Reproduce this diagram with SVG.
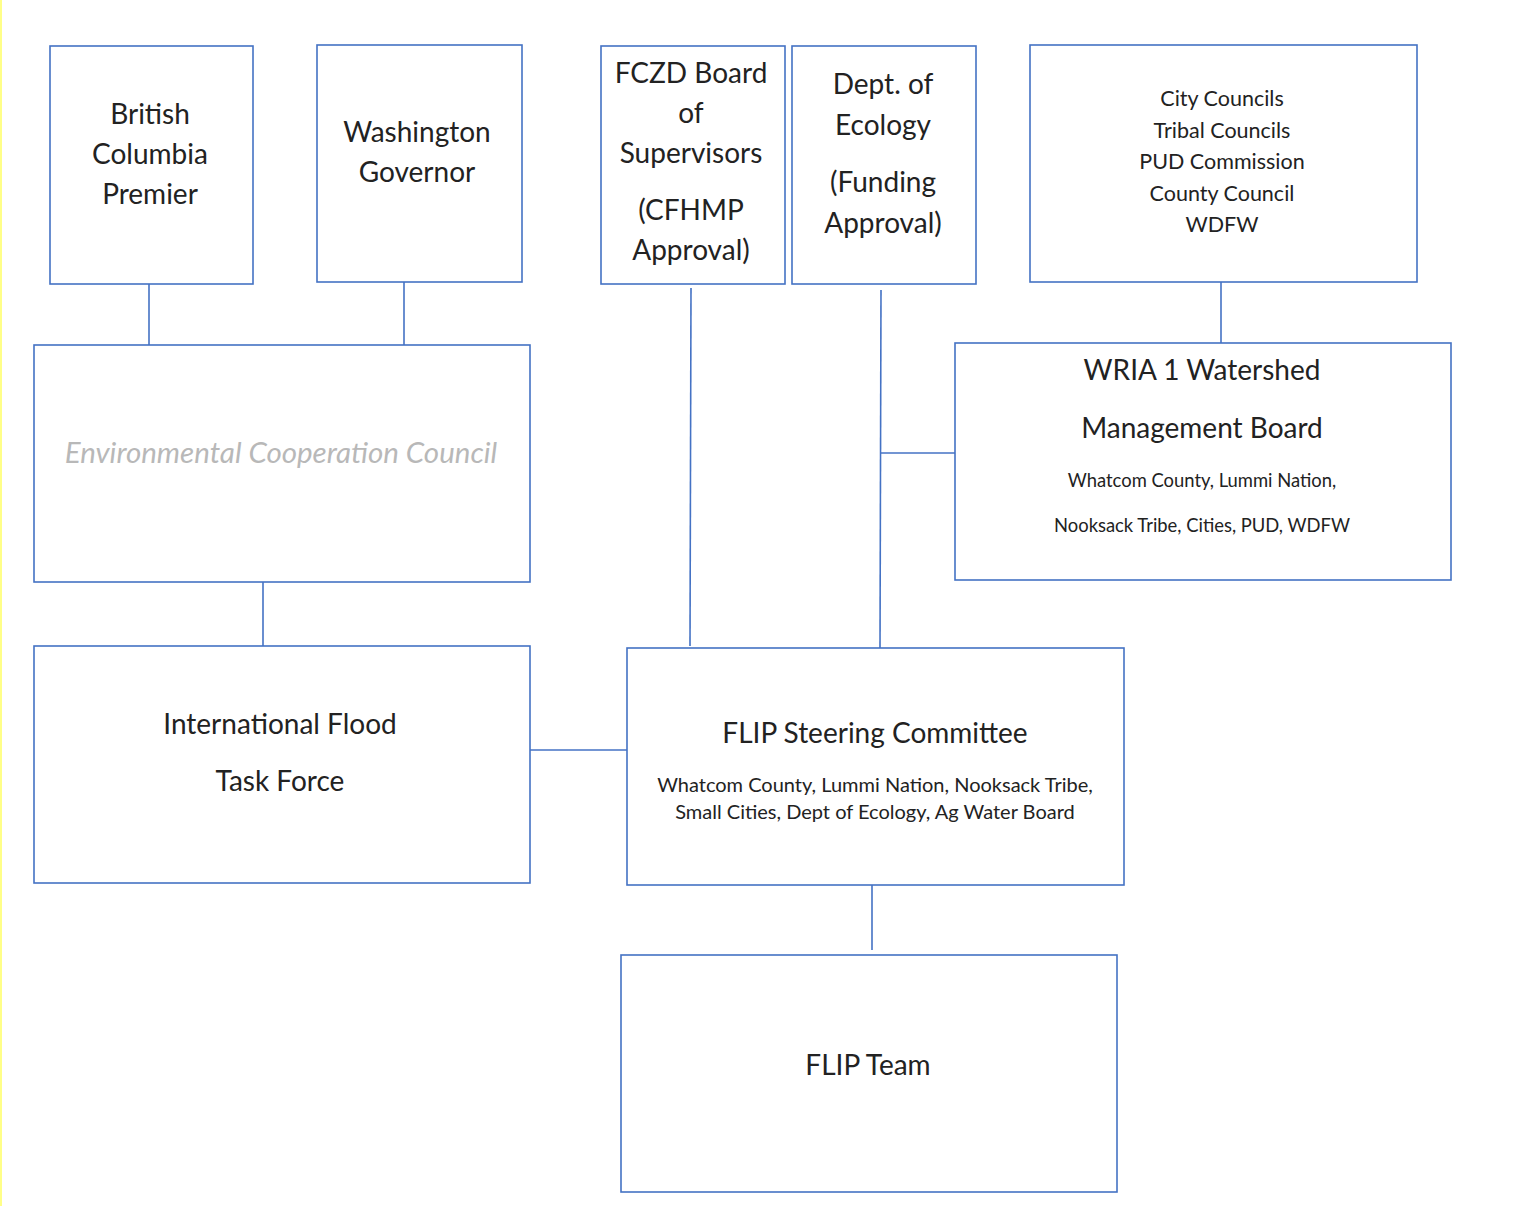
<svg xmlns="http://www.w3.org/2000/svg" width="1519" height="1206" viewBox="0 0 1519 1206">
<style>
.box{fill:#fff;stroke:#4472C4;stroke-width:1.6}
.con{stroke:#4472C4;stroke-width:1.6;fill:none}
text{font-family:Lato,"Open Sans",sans-serif;fill:#222;text-anchor:middle}
.l{font-size:28px}
.s{font-size:21.5px}
.xs{font-size:20px}
.xxs{font-size:18.4px}
.ecc{font-style:italic;fill:#b8b8b8;font-size:29.5px}
</style>
<rect x="0" y="0" width="1519" height="1206" fill="#fff"/>
<rect x="0" y="0" width="2" height="1206" fill="#ffff88"/>
<g id="connectors">
<line class="con" x1="149" y1="284" x2="149" y2="345"/>
<line class="con" x1="404" y1="282" x2="404" y2="345"/>
<line class="con" x1="691" y1="288" x2="690" y2="646"/>
<line class="con" x1="881" y1="290" x2="880" y2="648"/>
<line class="con" x1="880" y1="453" x2="955" y2="453"/>
<line class="con" x1="1221" y1="282" x2="1221" y2="343"/>
<line class="con" x1="263" y1="582" x2="263" y2="646"/>
<line class="con" x1="530" y1="750" x2="631" y2="750"/>
<line class="con" x1="872" y1="885" x2="872" y2="950"/>
</g>
<g id="bc">
<rect class="box" x="50" y="46" width="203" height="238"/>
<text class="l" x="150" y="124">British</text>
<text class="l" x="150" y="164">Columbia</text>
<text class="l" x="150" y="204">Premier</text>
</g>
<g id="wa">
<rect class="box" x="317" y="45" width="205" height="237"/>
<text class="l" x="417" y="142">Washington</text>
<text class="l" x="417" y="182">Governor</text>
</g>
<g id="fczd">
<rect class="box" x="601" y="46" width="184" height="238"/>
<text class="l" x="691" y="83">FCZD Board</text>
<text class="l" x="691" y="123">of</text>
<text class="l" x="691" y="163">Supervisors</text>
<text class="l" x="691" y="220">(CFHMP</text>
<text class="l" x="691" y="260">Approval)</text>
</g>
<g id="doe">
<rect class="box" x="792" y="46" width="184" height="238"/>
<text class="l" x="883" y="94">Dept. of</text>
<text class="l" x="883" y="135">Ecology</text>
<text class="l" x="883" y="192">(Funding</text>
<text class="l" x="883" y="233">Approval)</text>
</g>
<g id="councils">
<rect class="box" x="1030" y="45" width="387" height="237"/>
<text class="s" x="1222" y="106">City Councils</text>
<text class="s" x="1222" y="138">Tribal Councils</text>
<text class="s" x="1222" y="169">PUD Commission</text>
<text class="s" x="1222" y="201">County Council</text>
<text class="s" x="1222" y="232">WDFW</text>
</g>
<g id="ecc">
<rect class="box" x="34" y="345" width="496" height="237"/>
<text class="ecc" x="281" y="463">Environmental Cooperation Council</text>
</g>
<g id="wria">
<rect class="box" x="955" y="343" width="496" height="237"/>
<text class="l" x="1202" y="380">WRIA 1 Watershed</text>
<text class="l" x="1202" y="438">Management Board</text>
<text class="xxs" x="1202" y="487">Whatcom County, Lummi Nation,</text>
<text class="xxs" x="1202" y="532">Nooksack Tribe, Cities, PUD, WDFW</text>
</g>
<g id="iftf">
<rect class="box" x="34" y="646" width="496" height="237"/>
<text class="l" x="280" y="734">International Flood</text>
<text class="l" x="280" y="791">Task Force</text>
</g>
<g id="flipsc">
<rect class="box" x="627" y="648" width="497" height="237"/>
<text class="l" x="875" y="743">FLIP Steering Committee</text>
<text class="xs" x="875" y="792">Whatcom County, Lummi Nation, Nooksack Tribe,</text>
<text class="xs" x="875" y="819">Small Cities, Dept of Ecology, Ag Water Board</text>
</g>
<g id="fliptem">
<rect class="box" x="621" y="955" width="496" height="237"/>
<text class="l" x="868" y="1075">FLIP Team</text>
</g>
</svg>
